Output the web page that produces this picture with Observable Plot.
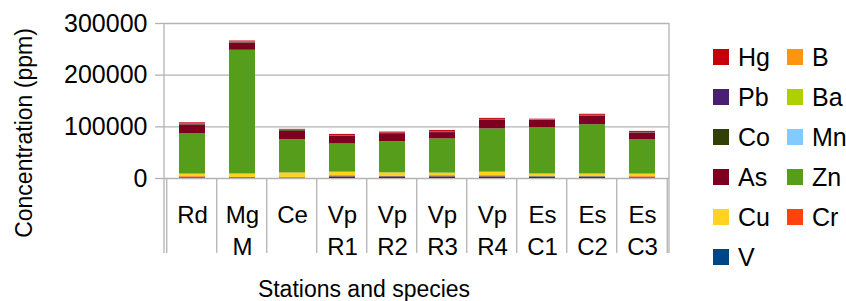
<!DOCTYPE html>
<html><head><meta charset="utf-8">
<script src="https://cdn.jsdelivr.net/npm/d3@7"></script>
<script src="https://cdn.jsdelivr.net/npm/@observablehq/plot@0.6"></script>
<style>body{margin:0;background:#fff}</style>
</head><body><div id="chart"></div>
<script>
const categories = ["Rd","MgM","Ce","VpR1","VpR2","VpR3","VpR4","EsC1","EsC2","EsC3"];
const tickLabels = ["Rd","Mg\nM","Ce","Vp\nR1","Vp\nR2","Vp\nR3","Vp\nR4","Es\nC1","Es\nC2","Es\nC3"];
const elements = ["V","Cr","Cu","Zn","As","Mn","Co","Ba","Pb","B","Hg"];
const colors = ["#004586","#ff420e","#ffd320","#579d1c","#7e0021","#83caff","#314004","#aecf00","#4b1f6f","#ff950e","#c5000b"];
const yTicks = [0,100000,200000,300000];

const V  = [1300, 1300, 300, 3200, 3200, 3200, 3200, 3200, 3200, 1300];
const Cr = [2000, 300, 1300, 2000, 600, 2000, 2000, 300, 300, 2000];
const Cu = [5200, 7100, 9100, 7100, 7100, 5200, 7100, 5200, 5200, 5200];
const Zn = [77900, 239500, 64300, 54500, 60400, 66200, 83700, 89600, 95400, 66200];
const As = [17500, 14300, 16200, 15600, 15600, 12300, 17500, 14300, 16200, 13600];
const Mn = [200, 300, 200, 200, 200, 200, 200, 200, 200, 200];
const Co = [1300, 1300, 2200, 300, 300, 1300, 300, 300, 300, 300];
const Ba = [100, 200, 100, 100, 100, 100, 100, 100, 100, 100];
const Pb = [200, 300, 1000, 200, 200, 200, 200, 200, 1300, 200];
const B  = [100, 200, 100, 100, 100, 100, 100, 100, 100, 100];
const Hg = [2000, 1300, 300, 2000, 2000, 2000, 2000, 1300, 2000, 2000];

const series = {V, Cr, Cu, Zn, As, Mn, Co, Ba, Pb, B, Hg};
const data = [];
for (const el of elements) categories.forEach((c, i) => data.push({cat: c, el, value: series[el][i]}));

const FONT = "Liberation Sans, Arial, sans-serif";
const GRAY = "#b3b3b3";

function decorations(index, scales, values, dim) {
  const g = d3.create("svg:g");
  const left = dim.marginLeft, right = dim.width - dim.marginRight;
  const top = dim.marginTop, bottom = dim.height - dim.marginBottom;
  const axisBottom = bottom + 75;
  const x = scales.x;
  const bw = x.bandwidth ? x.bandwidth() : 0;
  const step = (right - left) / categories.length;
  const bounds = categories.map(c => x(c) + bw / 2 - step / 2);
  bounds.push(bounds[bounds.length - 1] + step);
  for (const b of bounds) {
    g.append("line").attr("x1", b).attr("x2", b).attr("y1", bottom).attr("y2", axisBottom)
      .attr("stroke", GRAY).attr("stroke-width", 1.3);
  }
  for (const b of [left, right]) {
    g.append("line").attr("x1", b).attr("x2", b).attr("y1", top).attr("y2", axisBottom)
      .attr("stroke", GRAY).attr("stroke-width", 1.3);
  }
  g.append("text").attr("transform", `translate(32,${(top + axisBottom) / 2 - 5}) rotate(-90)`)
    .attr("text-anchor", "middle").attr("font-size", 23).attr("font-family", FONT).attr("fill", "#000")
    .text("Concentration (ppm)");
  g.append("text").attr("x", 364).attr("y", 297).attr("text-anchor", "middle")
    .attr("font-size", 23).attr("font-family", FONT).attr("fill", "#000")
    .text("Stations and species");
  const legendOrder = elements.slice().reverse();
  const lx = right + 44, ly = top + 34;
  legendOrder.forEach((el, i) => {
    const col = i % 2, row = Math.floor(i / 2);
    const gx = lx + col * 74, gy = ly + row * 40;
    g.append("rect").attr("x", gx).attr("y", gy - 8).attr("width", 16).attr("height", 16)
      .attr("fill", colors[elements.indexOf(el)]);
    g.append("text").attr("x", gx + 25).attr("y", gy + 9).attr("font-size", 25)
      .attr("text-anchor", "start")
      .attr("font-family", FONT).attr("fill", "#000").text(el);
  });
  return g.node();
}

const chart = Plot.plot({
  width: 846, height: 301,
  marginLeft: 164, marginRight: 177, marginTop: 23, marginBottom: 123,
  style: {fontFamily: FONT, background: "#fff", overflow: "visible"},
  x: {type: "band", domain: categories, paddingInner: 0.48, paddingOuter: 0.24, axis: null},
  y: {domain: [0, 300000], axis: null},
  color: {domain: elements, range: colors},
  marks: [
    Plot.gridY(yTicks, {stroke: GRAY, strokeOpacity: 1, strokeWidth: 1.3}),
    Plot.axisY(yTicks, {tickSize: 9, tickPadding: 8, stroke: GRAY, strokeWidth: 1.3, fill: "#000", fontSize: 25, tickFormat: d => String(d), label: null}),
    Plot.axisX({tickSize: 0, tickPadding: 22, fontSize: 24, lineHeight: 1.33, fill: "#000", tickFormat: d => tickLabels[categories.indexOf(d)], label: null}),
    Plot.barY(data, {x: "cat", y: "value", fill: "el", order: elements}),
    decorations
  ]
});
document.getElementById("chart").appendChild(chart);
</script>
</body></html>
